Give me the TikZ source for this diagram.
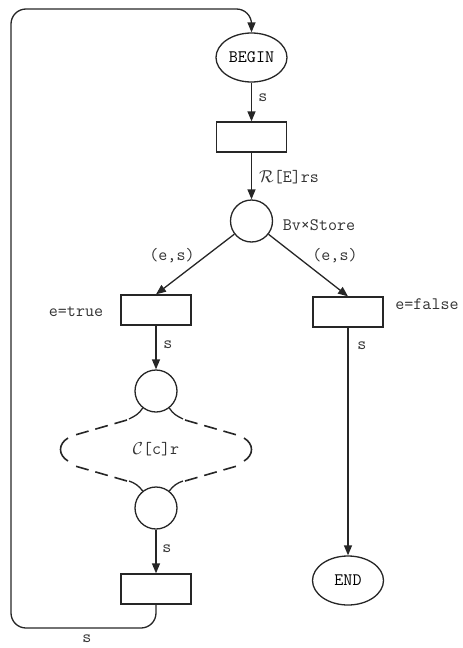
\documentclass[tikz,border=0pt]{standalone}
\usepackage{fontspec}
\usetikzlibrary{arrows.meta,shapes.geometric}
\begin{document}
\begin{tikzpicture}[x=1pt,y=-1pt,
  every node/.style={font=\fontsize{17.5}{20}\selectfont\ttfamily},
  net/.style={line width=1.3pt, draw=black!85},
  place/.style={net, circle, minimum size=42pt, inner sep=0pt},
  trans/.style={net, rectangle, minimum width=70pt, minimum height=30pt, inner sep=0pt},
  term/.style={net, ellipse, minimum width=71pt, minimum height=49pt, inner sep=0pt},
  arc/.style={net, -{Triangle[length=10pt,width=8pt]}},
  subnet/.style={net, line width=1.6pt, dash pattern=on 13pt off 7pt},
  lbl/.style={text=black!80, inner sep=0pt},
]
\useasboundingbox (0,0) rectangle (463,648);

% places, transitions and the two terminal states
\node[term] (begin) at (251.5,57.5) {BEGIN};
\node[trans] (t1) at (251.5,137) {};
\node[place] (p1) at (251.5,221) {};
\node[trans] (tt) at (156,310) {};
\node[trans] (tf) at (348,312) {};
\node[place] (p2) at (156,391) {};
\node[place] (p3) at (156,508) {};
\node[trans] (tb) at (156,589) {};
\node[term] (end) at (348,580.5) {END};

% arcs
\draw[arc] (begin) -- (t1);
\draw[arc] (t1) -- (p1);
\draw[arc] (p1) -- (tt.north);
\draw[arc] (p1) -- (tf.north);
\draw[arc] (tt) -- (p2);
\draw[arc] (p3) -- (tb);
\draw[arc] (tf) -- (end);
\draw[arc, rounded corners=15pt] (tb.south) -- (156,628) -- (11,628) -- (11,9) -- (251.5,9) -- (begin.north);

% sub-net C[c]r drawn as a dashed region between the two places
\draw[net] (p2.232) .. controls (139,414) and (135,416) .. (129,419);
\draw[net] (p2.308) .. controls (173,414) and (177,416) .. (183,419);
\draw[net] (129,481) .. controls (135,483) and (139,486) .. (p3.128);
\draw[net] (183,481) .. controls (177,483) and (173,486) .. (p3.52);
\draw[subnet] (127,420) -- (75,435);
\draw[subnet] (185,420) -- (237,435);
\draw[subnet] (127,481) -- (75,466);
\draw[subnet] (185,481) -- (237,466);
\draw[net, line width=1.6pt] (68,438) .. controls (58,444) and (58,455) .. (68,461);
\draw[net, line width=1.6pt] (244,438) .. controls (254,444) and (254,455) .. (244,461);

% inscriptions
\node[lbl] at (263,98) {s};
\node[lbl] at (289,177) {$\mathcal{R}$[E]rs};
\node[lbl] at (319,225) {Bv×Store};
\node[lbl] at (172,256) {(e,s)};
\node[lbl] at (335,256) {(e,s)};
\node[lbl] at (76,312) {e=true};
\node[lbl] at (427,304) {e=false};
\node[lbl] at (168,345) {s};
\node[lbl] at (362,346) {s};
\node[lbl] at (156,449) {$\mathcal{C}$[c]r};
\node[lbl] at (167,549) {s};
\node[lbl] at (87,639) {s};
\end{tikzpicture}
\end{document}
